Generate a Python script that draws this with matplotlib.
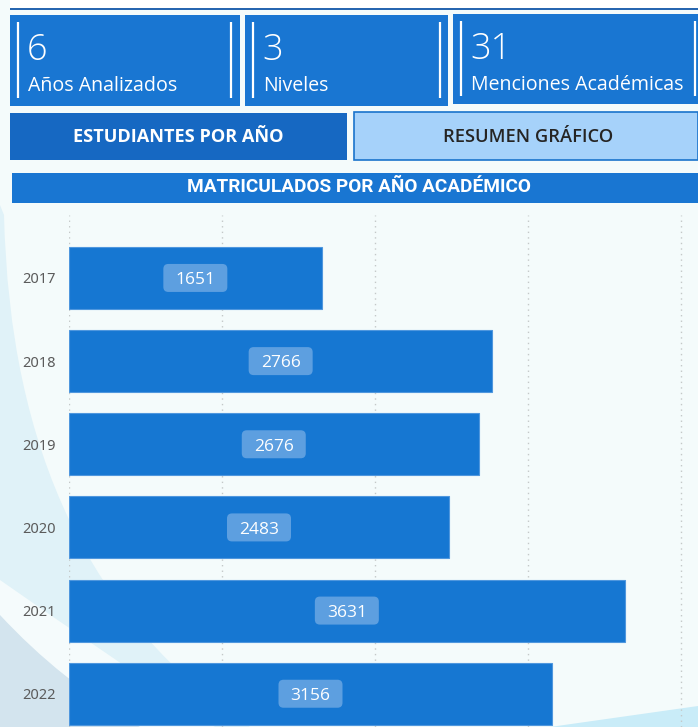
import matplotlib
matplotlib.use('Agg')
import matplotlib.pyplot as plt
from matplotlib.patches import Rectangle, FancyBboxPatch, PathPatch, Polygon
from matplotlib.path import Path
import matplotlib.transforms as mtransforms

# ---------------- data ----------------
years = ['2017', '2018', '2019', '2020', '2021', '2022']
enrolled = [1651, 2766, 2676, 2483, 3631, 3156]
card_values = ['6', '3', '31']
card_labels = ['Años Analizados', 'Niveles', 'Menciones Académicas']
tab_labels = ['ESTUDIANTES POR AÑO', 'RESUMEN GRÁFICO']
chart_title = 'MATRICULADOS POR AÑO ACADÉMICO'
x_ticks = [0, 1000, 2000, 3000, 4000]

W, H = 698, 727
fig = plt.figure(figsize=(W / 100, H / 100), dpi=100, facecolor='#f4fbfb')
bg = fig.add_axes([0, 0, 1, 1])
bg.set_xlim(0, W)
bg.set_ylim(H, 0)
bg.axis('off')
bg.set_zorder(0)
renderer = fig.canvas.get_renderer()


def fit_text(x, y, s, width, ha='left', va='baseline', **kw):
    t = bg.text(x, y, s, ha=ha, va=va, fontsize=12, **kw)
    bb = t.get_window_extent(renderer)
    t.set_fontsize(12 * width / bb.width)
    return t


def qpath(p0, c, p1, corner):
    verts = [p0, c, p1, corner, p0]
    codes = [Path.MOVETO, Path.CURVE3, Path.CURVE3, Path.LINETO, Path.CLOSEPOLY]
    return Path(verts, codes)

# decorative background shapes
bg.add_patch(PathPatch(Path([(0, 205), (4, 215), (12, 570), (250, 727), (0, 727), (0, 205)],
                            [Path.MOVETO, Path.LINETO, Path.CURVE3, Path.CURVE3, Path.LINETO, Path.CLOSEPOLY]),
                       fc='#e0f2f8', ec='none'))
bg.add_patch(PathPatch(qpath((0, 580), (100, 650), (215, 727), (0, 727)), fc='#f5fbfc', ec='none'))
bg.add_patch(PathPatch(qpath((0, 615), (60, 680), (140, 727), (0, 727)), fc='#d3e4ee', ec='none'))
bg.add_patch(Polygon([(550, 727), (698, 706), (698, 727)], closed=True, fc='#c9ecf8', ec='none'))

# top strip
bg.add_patch(Rectangle((10, 0), 688, 9, fc='white', ec='none'))
bg.add_patch(Rectangle((10, 7.5), 688, 2.5, fc='#2766b0', ec='none'))

# cards
card_boxes = [(10, 15, 230, 91), (245, 15, 203, 91), (453, 14, 245, 90)]
card_lines = [(18, 231), (253, 440), (461, 695)]
label_widths = [149, 65, 211]
for (x, y, w, h), (l1, l2), v, lab, lw in zip(card_boxes, card_lines, card_values,
                                             card_labels, label_widths):
    bg.add_patch(Rectangle((x, y), w, h, fc='#1976d2', ec='none'))
    for lx in (l1, l2):
        bg.plot([lx, lx], [y + 7, y + h - 8], color='white', lw=1.6, solid_capstyle='butt')
    bg.text(l1 + 9, y + 45, v, ha='left', va='baseline', fontsize=26, color='white',
            family=['Open Sans', 'DejaVu Sans'], fontweight='light')
    fit_text(l1 + 10, y + 76, lab, lw, color='white', family=['Open Sans', 'DejaVu Sans'])

# tabs
bg.add_patch(Rectangle((10, 113), 337, 47, fc='#1668c2', ec='none'))
bg.add_patch(Rectangle((354, 112), 344, 48, fc='#a6d2fa', ec='#1a74cc', lw=1.2))
fit_text(178, 142, tab_labels[0], 210, ha='center', color='white',
         family=['Open Sans', 'DejaVu Sans'], fontweight='bold')
fit_text(528, 142, tab_labels[1], 170, ha='center', color='#252423',
         family=['Open Sans', 'DejaVu Sans'], fontweight='semibold')

# title bar
bg.add_patch(Rectangle((12, 173), 686, 30, fc='#1976d2', ec='none'))
fit_text(358.5, 192.5, chart_title, 343, ha='center', color='white',
         family=['Roboto', 'DejaVu Sans'], fontweight='bold')

# ---------------- chart ----------------
ax = fig.add_axes([69 / W, 0, (W - 69) / W, (H - 215) / H])
ax.set_zorder(1)
ax.patch.set_alpha(0)
ypos = list(range(len(years)))
ax.barh(ypos, enrolled, height=0.745, color='#1677d2', edgecolor='#4f97de', linewidth=0.8, zorder=2)
ax.set_xlim(0, 4110)
ax.set_ylim(5.4, -0.757)
ax.set_xticks(x_ticks)
ax.tick_params(axis='x', length=0, labelbottom=False)
ax.xaxis.grid(True, linestyle=(0, (1, 3)), color='#c4c8c8', lw=1)
ax.yaxis.grid(False)
ax.set_axisbelow(True)
ax.set_yticks(ypos)
ax.set_yticklabels(years, fontsize=10.5, color='#5b5b5b', family=['Noto Sans', 'DejaVu Sans'])
ax.tick_params(axis='y', length=0, pad=9.5)
for s in ax.spines.values():
    s.set_visible(False)

for yi, v in zip(ypos, enrolled):
    tr = mtransforms.ScaledTranslation(v / 2, yi, ax.transData)
    ax.add_patch(FancyBboxPatch((-32, -14), 64, 28, boxstyle='round,pad=0,rounding_size=5',
                                transform=tr, fc='#5d9fe0', ec='none', zorder=3))
    ax.annotate(str(v), xy=(v / 2, yi), xytext=(0, -6.3), textcoords='offset pixels',
                ha='center', va='baseline', color='white', fontsize=12.5,
                family=['Open Sans', 'DejaVu Sans'], zorder=4)

fig.savefig('out.png', dpi=100, facecolor=fig.get_facecolor())
